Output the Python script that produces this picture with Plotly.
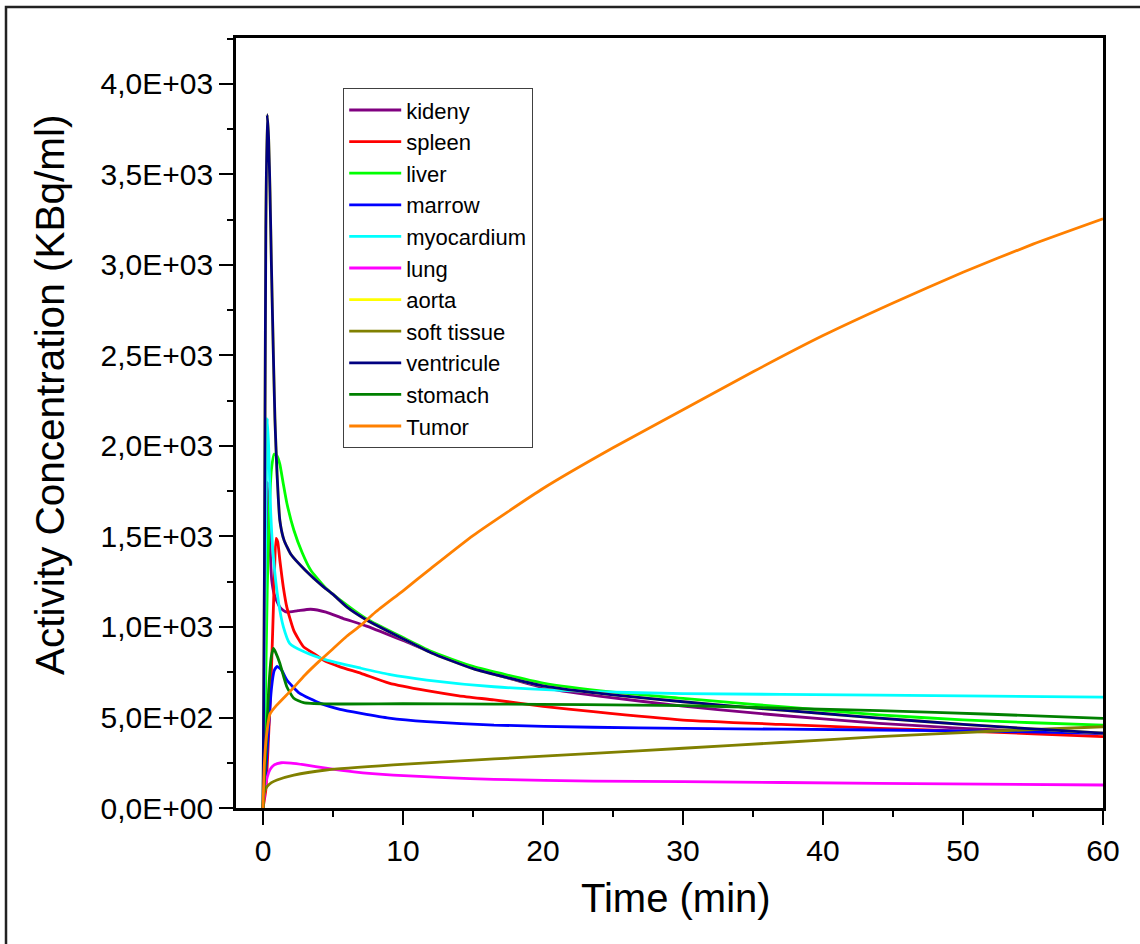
import plotly.graph_objects as go

# ---------------- data ----------------
series_names = ["kideny", "spleen", "liver", "marrow", "myocardium", "lung",
                "aorta", "soft tissue", "ventricule", "stomach", "Tumor"]
series_colors = ["#800080", "#FF0000", "#00FF00", "#0000FF", "#00FFFF", "#FF00FF",
                 "#FFFF00", "#808000", "#000080", "#008000", "#FF8000"]

t_kideny = [0, 0.15, 0.3, 0.4, 0.5, 0.62, 0.8, 1.0, 1.2, 1.45, 1.7, 2.5, 3.4, 4.5, 5.7, 7.4,
            10, 12, 15, 20, 24, 30, 35, 40, 44, 50, 55, 60]
v_kideny = [0, 900, 1800, 1650, 1450, 1260, 1180, 1140, 1110, 1092, 1082, 1090, 1098, 1082, 1048, 1005,
            925, 860, 775, 665, 618, 563, 525, 492, 468, 440, 424, 411]

t_spleen = [0, 0.2, 0.4, 0.55, 0.7, 0.8, 0.93, 1.05, 1.2, 1.45, 1.7, 2.2, 2.9, 3.8, 4.3, 5.5, 7,
            9, 11.7, 14, 16.5, 20, 23.6, 30, 37, 44, 50, 55, 60]
v_spleen = [0, 100, 400, 650, 1000, 1250, 1490, 1470, 1370, 1220, 1110, 980, 890, 845, 818, 780, 744,
            690, 648, 620, 597, 562, 532, 486, 462, 440, 425, 410, 394]

t_liver = [0, 0.15, 0.3, 0.45, 0.6, 0.8, 1.0, 1.2, 1.45, 1.7, 2.2, 2.8, 3.4, 4.5, 5.5, 7.4,
           10, 12, 15, 20, 25, 30, 35, 40, 44, 50, 55, 60]
v_liver = [0, 500, 1200, 1650, 1870, 1955, 1945, 1900, 1790, 1685, 1536, 1410, 1315, 1214, 1150, 1045,
           942, 866, 782, 690, 640, 606, 573, 540, 514, 487, 471, 458]

t_marrow = [0, 0.2, 0.4, 0.6, 0.8, 1.0, 1.3, 1.7, 2.6, 4.1, 5.5, 7, 9, 11.7, 16.5, 23.6, 30, 44, 52, 60]
v_marrow = [0, 200, 450, 660, 760, 782, 765, 707, 634, 578, 545, 523, 497, 477, 458, 446, 440, 431, 424, 413]

t_myocardium = [0, 0.15, 0.3, 0.4, 0.55, 0.75, 1.1, 1.45, 1.9, 2.9, 4.5, 7, 9, 11.7, 16.5, 23.6, 30, 44, 52, 60]
v_myocardium = [0, 1200, 2150, 2000, 1630, 1376, 1140, 1002, 910, 864, 818, 772, 738, 707, 670, 643, 632, 624, 618, 612]

t_lung = [0, 0.15, 0.3, 0.5, 0.8, 1.3, 2, 3, 4.5, 6.5, 9.3, 13, 16.5, 23.6, 30, 44, 60]
v_lung = [0, 110, 170, 212, 238, 250, 248, 238, 220, 200, 182, 168, 158, 149, 146, 136, 127]

t_ventricule = [0, 0.1, 0.2, 0.3, 0.4, 0.5, 0.6, 0.7, 0.85, 1.0, 1.2, 1.5, 2, 3, 4.3, 5, 6, 7.4,
                10, 12, 15, 20, 25, 30, 35, 40, 44, 50, 55, 60]
v_ventricule = [0, 1300, 3200, 3830, 3700, 3400, 3000, 2640, 2150, 1850, 1590, 1480, 1400, 1315, 1223, 1180, 1110, 1039,
                935, 858, 770, 675, 625, 587, 553, 522, 497, 462, 437, 414]

# aorta is hidden under the ventricule curve in the reference
t_aorta = list(t_ventricule)
v_aorta = list(v_ventricule)

t_soft = [0, 0.05, 0.15, 0.3, 0.6, 1, 2.2, 4.5, 9.3, 16.5, 23.6, 30, 37, 44, 52, 60]
v_soft = [0, 70, 100, 120, 140, 155, 182, 210, 238, 271, 302, 330, 362, 394, 424, 449]

t_stomach = [0, 0.2, 0.4, 0.6, 0.75, 0.9, 1.2, 1.7, 2.2, 2.9, 4.5, 10, 16.5, 23, 30, 37, 44, 52, 60]
v_stomach = [0, 300, 650, 840, 882, 860, 800, 670, 606, 582, 575, 576, 574, 571, 566, 552, 538, 518, 495]

t_tumor = [0, 0.1, 0.25, 0.5, 1, 2, 3, 4, 5, 6, 7, 8, 10, 12, 15, 20, 25, 30, 35, 40, 45, 50, 55, 60]
v_tumor = [0, 250, 400, 520, 570, 650, 735, 810, 880, 950, 1010, 1080, 1200, 1324, 1505, 1765, 1990, 2200,
           2410, 2610, 2790, 2960, 3115, 3255]

series_t = [t_kideny, t_spleen, t_liver, t_marrow, t_myocardium, t_lung,
            t_aorta, t_soft, t_ventricule, t_stomach, t_tumor]
series_v = [v_kideny, v_spleen, v_liver, v_marrow, v_myocardium, v_lung,
            v_aorta, v_soft, v_ventricule, v_stomach, v_tumor]

x_tickvals = [0, 10, 20, 30, 40, 50, 60]
y_tickvals = [0, 500, 1000, 1500, 2000, 2500, 3000, 3500, 4000]
y_ticktext = ["0,0E+00", "5,0E+02", "1,0E+03", "1,5E+03", "2,0E+03",
              "2,5E+03", "3,0E+03", "3,5E+03", "4,0E+03"]
x_title = "Time (min)"
y_title = "Activity Concentration (KBq/ml)"

# ---------------- figure ----------------
FONT = "Liberation Sans, Arial, sans-serif"
fig = go.Figure()
for name, color, tx, vy in zip(series_names, series_colors, series_t, series_v):
    fig.add_trace(go.Scatter(x=tx, y=vy, mode="lines", name=name,
                             line=dict(color=color, width=2.8, shape="spline", smoothing=0.5)))

L, R, T, B = 236, 37, 38, 136
W, H = 1140, 944
pw, ph = W - L - R, H - T - B


def px_x(p):
    return (p - L) / pw


def px_y(p):
    return (H - B - p) / ph


fig.update_layout(
    width=W, height=H,
    margin=dict(l=L, r=R, t=T, b=B, pad=0),
    paper_bgcolor="white", plot_bgcolor="white",
    font=dict(family=FONT, color="black"),
    showlegend=True,
    legend=dict(x=px_x(343), y=px_y(88), xanchor="left", yanchor="top",
                bgcolor="white", bordercolor="#404040", borderwidth=1.2,
                font=dict(size=22, family=FONT, color="black"),
                tracegroupgap=0, itemwidth=52),
    xaxis=dict(range=[-1.93, 60], showgrid=False, zeroline=False,
               showline=True, linecolor="black", linewidth=2.6, mirror=True,
               tickmode="array", tickvals=x_tickvals,
               ticks="outside", ticklen=14, tickwidth=2.4, tickcolor="black",
               minor=dict(dtick=5, tick0=0, ticks="outside", ticklen=6, tickwidth=2.4, tickcolor="black"),
               tickfont=dict(size=30, family=FONT, color="black")),
    yaxis=dict(range=[0, 4254], showgrid=False, zeroline=False,
               showline=True, linecolor="black", linewidth=2.6, mirror=True,
               tickmode="array", tickvals=y_tickvals, ticktext=y_ticktext,
               ticks="outside", ticklen=14, tickwidth=2.4, tickcolor="black",
               minor=dict(dtick=250, tick0=0, ticks="outside", ticklen=6, tickwidth=2.4, tickcolor="black"),
               tickfont=dict(size=30, family=FONT, color="black")),
)

# axis titles (placed as in the reference)
fig.add_annotation(text=x_title, xref="paper", yref="paper", x=px_x(676), y=px_y(898),
                   xanchor="center", yanchor="middle", showarrow=False,
                   font=dict(size=40, family=FONT, color="black"))
fig.add_annotation(text=y_title, xref="paper", yref="paper", x=px_x(50), y=px_y(395),
                   xanchor="center", yanchor="middle", showarrow=False, textangle=-90,
                   font=dict(size=40.5, family=FONT, color="black"))

# outer frame of the picture
fig.add_shape(type="rect", xref="paper", yref="paper",
              x0=px_x(6), x1=px_x(1150), y0=px_y(960), y1=px_y(7),
              line=dict(color="#222222", width=2.5), fillcolor="rgba(0,0,0,0)", layer="above")

fig.write_html("out.html", config={"displayModeBar": False},
               post_script="document.body.style.margin='0';")
